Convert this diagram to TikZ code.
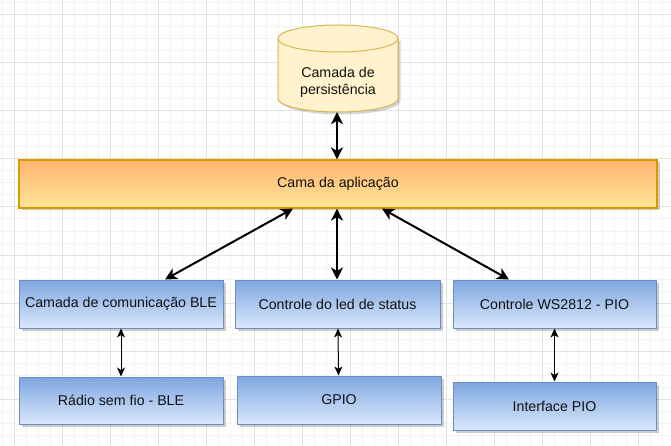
\documentclass[tikz,border=0pt]{standalone}
\usepackage{fontspec}
\setmainfont{Liberation Sans}
\usetikzlibrary{arrows.meta,shadows}
\definecolor{gridmaj}{HTML}{E2E2E2}
\definecolor{gridmin}{HTML}{F3F3F3}
\definecolor{bluetop}{HTML}{7EA6E0}
\definecolor{bluebot}{HTML}{DAE8FC}
\definecolor{bluestroke}{HTML}{6C8EBF}
\definecolor{orgtop}{HTML}{FFB570}
\definecolor{orgbot}{HTML}{FFE599}
\definecolor{orgstroke}{HTML}{D79B00}
\definecolor{cylfill}{HTML}{FFF2CC}
\definecolor{cylstroke}{HTML}{D6B656}
\definecolor{txt}{HTML}{111111}
\tikzset{
  lbl/.style={font=\fontsize{14.2}{17}\selectfont, text=txt, align=center},
  bluebox/.style={lbl, rectangle, draw=bluestroke, line width=1pt,
    top color=bluetop, bottom color=bluebot, inner sep=0pt,
    drop shadow={shadow xshift=2.5pt, shadow yshift=-2.5pt, opacity=0.2, fill=black}},
  appbox/.style={lbl, rectangle, draw=orgstroke, line width=1.2pt,
    top color=orgtop, bottom color=orgbot, inner sep=0pt,
    drop shadow={shadow xshift=2.5pt, shadow yshift=-2.5pt, opacity=0.2, fill=black}},
  thickarr/.style={line width=2pt, {Stealth[length=12pt,width=12pt,inset=3.5pt]}-{Stealth[length=12pt,width=12pt,inset=3.5pt]}},
  thinarr/.style={line width=1pt, {Stealth[length=9pt,width=8pt,inset=2.5pt]}-{Stealth[length=9pt,width=8pt,inset=2.5pt]}},
}
\begin{document}
\begin{tikzpicture}[x=1pt,y=-1pt]
\useasboundingbox (0,0) rectangle (671,446);
\fill[white] (0,0) rectangle (671,446);
% grid
\foreach \x in {2,14,...,670} \draw[gridmin, line width=1pt] (\x,0) -- (\x,446);
\foreach \y in {3,15,...,446} \draw[gridmin, line width=1pt] (0,\y) -- (671,\y);
\foreach \x in {14,62,...,670} \draw[gridmaj, line width=1pt] (\x,0) -- (\x,446);
\foreach \y in {15,63,...,446} \draw[gridmaj, line width=1pt] (0,\y) -- (671,\y);
% cylinder
\fill[black, opacity=0.16] (280.5,41) -- (280.5,101) arc[start angle=180, end angle=0, x radius=60, y radius=13.5] -- (400.5,41) -- cycle;
\filldraw[fill=cylfill, draw=cylstroke, line width=1pt]
  (278,38.5) -- (278,98.5) arc[start angle=180, end angle=0, x radius=60, y radius=13.5]
  -- (398,38.5) arc[start angle=0, end angle=-180, x radius=60, y radius=13.5] -- cycle;
\draw[cylstroke, line width=1pt] (278,38.5) arc[start angle=180, end angle=0, x radius=60, y radius=13.5];
\node[lbl, minimum width=120pt, minimum height=87pt, inner sep=0pt] (cyl) at (338,68.5) {};
\node[lbl] (cyltext) at (338,82) {Camada de\\persistência};
% application
\node[appbox, minimum width=638pt, minimum height=48pt] (app) at (338,184) {\raisebox{-1.5pt}{Cama da aplicação}};
% middle row
\node[bluebox, minimum width=204pt, minimum height=48pt] (ble) at (121,304) {\raisebox{-1.5pt}{Camada de comunicação BLE}};
\node[bluebox, minimum width=205pt, minimum height=48pt] (led) at (337.5,304) {\raisebox{-1.5pt}{Controle do led de status}};
\node[bluebox, minimum width=203pt, minimum height=48pt] (ws) at (554.5,304) {\raisebox{-1.5pt}{Controle WS2812 - PIO}};
% bottom row
\node[bluebox, minimum width=204pt, minimum height=47pt] (radio) at (121,400.5) {\raisebox{-1.5pt}{Rádio sem fio - BLE}};
\node[bluebox, minimum width=204pt, minimum height=48pt] (gpio) at (339,400) {\raisebox{-1.5pt}{GPIO}};
\node[bluebox, minimum width=203pt, minimum height=48pt] (pio) at (554.5,406) {\raisebox{-1.5pt}{Interface PIO}};
% connectors
\draw[thickarr] ([xshift=-1pt]cyl.south) -- ([xshift=-1pt]app.north);
\draw[thickarr] ([xshift=-1pt]app.south) -- ([xshift=-0.5pt]led.north);
\draw[thickarr] ([xshift=-45pt]app.south) -- ([xshift=44pt]ble.north);
\draw[thickarr] ([xshift=44pt]app.south) -- ([xshift=-45.5pt]ws.north);
\draw[thinarr] (ble.south) -- (radio.north);
\draw[thinarr] ([xshift=0.5pt]led.south) -- ([xshift=-0.5pt]gpio.north);
\draw[thinarr] (ws.south) -- (pio.north);
\end{tikzpicture}
\end{document}
